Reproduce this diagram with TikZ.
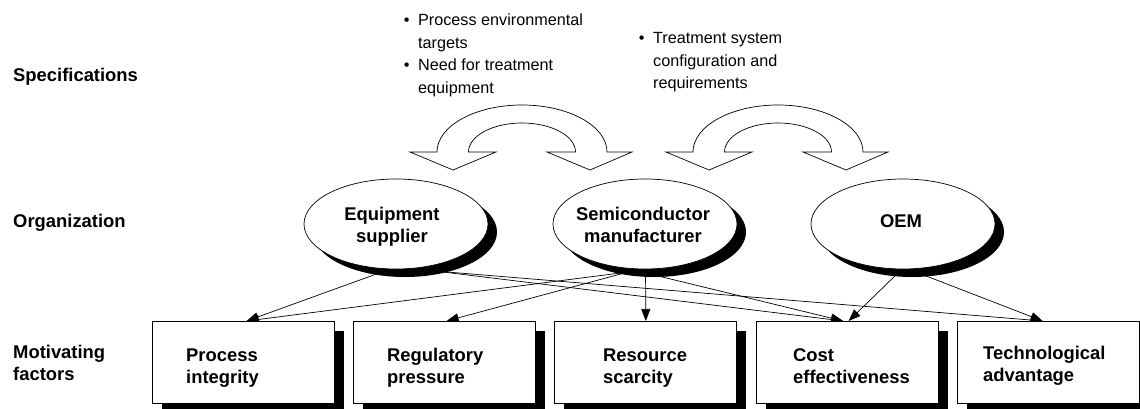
\documentclass[tikz,border=0pt]{standalone}
\usepackage{fontspec}
\setmainfont{Liberation Sans}
\usetikzlibrary{shapes.geometric,shadows,arrows.meta,calc}
\pgfdeclarelayer{background}
\pgfsetlayers{background,main}

% two-line text blocks whose baseline is the first line
\newcommand{\ltwo}[2]{\begin{tabular}[t]{@{}l@{}}#1\\#2\end{tabular}}
\newcommand{\ctwo}[2]{\begin{tabular}[t]{@{}c@{}}#1\\#2\end{tabular}}

\tikzset{
  boldtext/.style={font={\bfseries\fontsize{18.4pt}{22pt}\selectfont}, inner sep=0pt},
  rowlabel/.style={boldtext, anchor=base west},
  boxlabel/.style={boldtext, anchor=base west},
  orglabel/.style={boldtext, anchor=base},
  bullettext/.style={font={\fontsize{16.2pt}{22.4pt}\selectfont}, inner sep=0pt, anchor=base west},
  org/.style={ellipse, draw=black, line width=0.7pt, fill=white,
    minimum width=184pt, minimum height=90pt, inner sep=0pt,
    drop shadow={shadow xshift=9pt, shadow yshift=-8pt, fill=black, opacity=1}},
  factor/.style={rectangle, draw=black, line width=0.7pt, fill=white,
    minimum width=181.5pt, minimum height=82pt, inner sep=0pt, anchor=north west,
    drop shadow={shadow xshift=10pt, shadow yshift=-10pt, fill=black, opacity=1}},
  conn/.style={draw=black, line width=0.7pt, -{Triangle[length=12pt,width=9pt]}},
  swapline/.style={draw=black, line width=0.7pt, fill=white, line join=miter},
  pics/swaparrow/.style={code={
    \draw[swapline] (-85,0) -- (-112,0) -- (-69,18) -- (-26,0) -- (-53.5,0)
      arc[start angle=180, end angle=360, x radius=53.5, y radius=29]
      -- (25,0) -- (68,18) -- (110,0) -- (85,0)
      arc[start angle=360, end angle=180, x radius=85, y radius=47] -- cycle;
  }}
}

\begin{document}
\begin{tikzpicture}[x=1pt, y=-1pt]
\useasboundingbox (0,0) rectangle (1140,409);

% row titles
\node[rowlabel] (spec) at (13,82) {Specifications};
\node[rowlabel] (orgn) at (13,227) {Organization};
\node[rowlabel] (motv) at (13,358) {\ltwo{Motivating}{factors}};

% specification notes
\node[bullettext] (noteA) at (403.7,26) {\begin{tabular}[t]{@{}l@{\hspace{8.6pt}}l@{}}\textbullet & Process environmental\\ & targets\\ \textbullet & Need for treatment\\ & equipment\end{tabular}};
\node[bullettext] (noteB) at (638.7,44) {\begin{tabular}[t]{@{}l@{\hspace{8.6pt}}l@{}}\textbullet & Treatment system\\ & configuration and\\ & requirements\end{tabular}};

% exchange arrows
\pic at (522,152) {swaparrow};
\pic at (778,152) {swaparrow};

% organizations
\node[org] (es) at (396,224) {};
\node[org] (sm) at (645,224) {};
\node[org] (oem) at (903,224) {};
\node[orglabel] (esl) at (392,220) {\ctwo{Equipment}{supplier}};
\node[orglabel] (sml) at (643,220) {\ctwo{Semiconductor}{manufacturer}};
\node[orglabel] (oeml) at (901,227) {OEM};

% motivating factors
\node[factor] (pi) at (152,321) {};
\node[factor] (rp) at (353,321) {};
\node[factor] (rs) at (554,321) {};
\node[factor] (ce) at (756,321) {};
\node[factor] (ta) at (957,321) {};
\node[boxlabel] (pil) at (186,361) {\ltwo{Process}{integrity}};
\node[boxlabel] (rpl) at (387,361) {\ltwo{Regulatory}{pressure}};
\node[boxlabel] (rsl) at (603,361) {\ltwo{Resource}{scarcity}};
\node[boxlabel] (cel) at (793,361) {\ltwo{Cost}{effectiveness}};
\node[boxlabel] (tal) at (983,359) {\ltwo{Technological}{advantage}};

% influences
\begin{pgfonlayer}{background}
\draw[conn] ($(es.center)+(-14,48)$) -- ($(pi.north)+(3.5,0)$);
\draw[conn] ($(es.center)+(39,47)$) -- ($(ce.north)+(-4,0)$);
\draw[conn] ($(es.center)+(39,47)$) -- ($(ta.north)+(-5.5,0)$);
\draw[conn] ($(sm.center)+(-17,48)$) -- ($(pi.north)+(3.5,0)$);
\draw[conn] ($(sm.center)+(-17,48)$) -- ($(rp.north)+(2.5,0)$);
\draw[conn] ($(sm.center)+(0.5,46)$) -- ($(rs.north)+(0.75,0)$);
\draw[conn] ($(sm.center)+(5,50)$) -- ($(ce.north)+(-4,0)$);
\draw[conn] ($(oem.center)+(-3,47)$) -- ($(ce.north)+(1.5,0)$);
\draw[conn] ($(oem.center)+(18,50)$) -- ($(ta.north)+(-5.5,0)$);
\end{pgfonlayer}
\end{tikzpicture}
\end{document}
